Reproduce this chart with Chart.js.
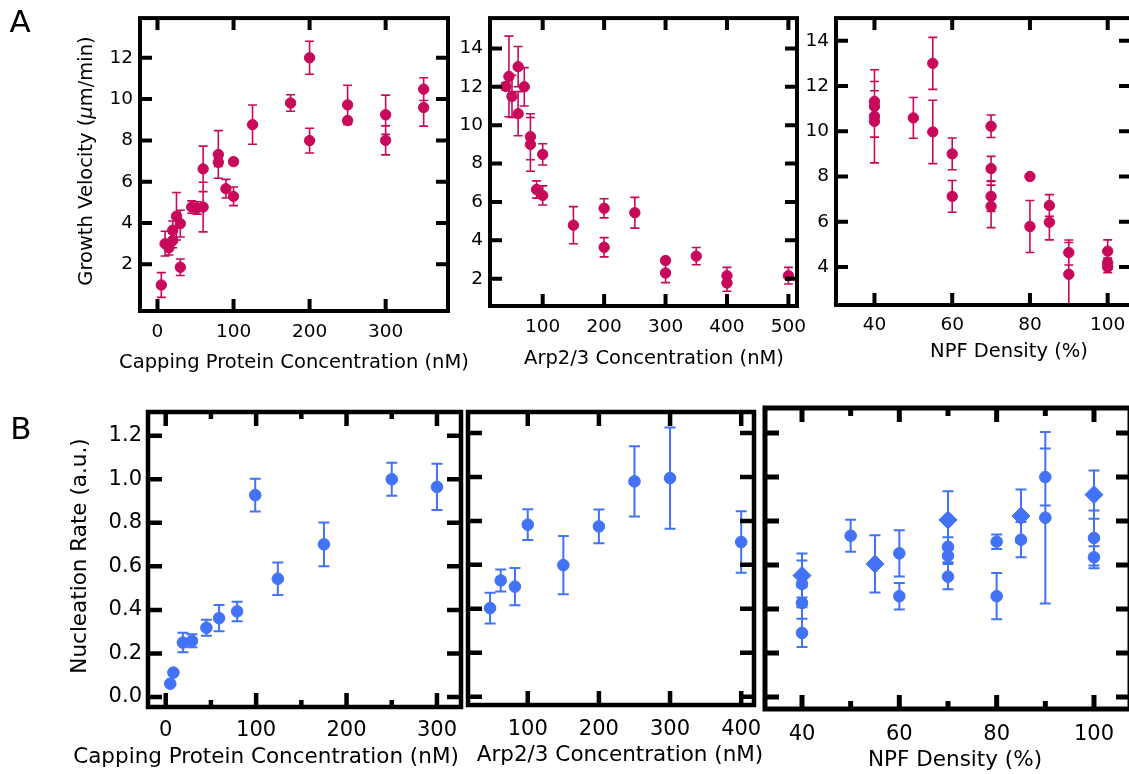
<!DOCTYPE html>
<html>
<head>
<meta charset="utf-8">
<script src="https://cdn.jsdelivr.net/npm/chart.js@4/dist/chart.umd.min.js"></script>
<style>
  html, body { margin: 0; padding: 0; background: #fff; overflow: hidden; width: 1129px; height: 774px; }
  canvas { position: absolute; left: 0; top: 0; }
</style>
</head>
<body>
<canvas id="a1" width="1140" height="774"></canvas>
<canvas id="a2" width="1140" height="774"></canvas>
<canvas id="a3" width="1140" height="774"></canvas>
<canvas id="b1" width="1140" height="774"></canvas>
<canvas id="b2" width="1140" height="774"></canvas>
<canvas id="b3" width="1140" height="774"></canvas>
<script>
// ---- data ----

// A, left: growth velocity vs capping protein
const cpGrowthX   = [5, 10, 15, 20, 20, 25, 30, 30, 45, 52, 60, 60, 80, 80, 90, 100, 100, 125, 175, 200, 200, 250, 250, 300, 300, 350, 350];
const cpGrowthY   = [1.0, 3.0, 2.8, 3.15, 3.65, 4.33, 3.97, 1.86, 4.77, 4.73, 4.77, 6.62, 7.32, 6.94, 5.66, 6.97, 5.29, 8.76, 9.81, 12.0, 7.99, 9.72, 8.96, 9.24, 8.0, 10.48, 9.59];
const cpGrowthErr = [0.6, 0.6, 0.35, 0.35, 0.45, 1.15, 0.65, 0.4, 0.3, 0.3, 1.2, 1.1, 1.15, 0.2, 0.45, 0.15, 0.45, 0.95, 0.4, 0.8, 0.6, 0.95, 0.15, 0.95, 0.7, 0.55, 0.9];

// A, middle: growth velocity vs Arp2/3
const arpGrowthX   = [40, 45, 50, 60, 60, 70, 80, 80, 100, 90, 100, 150, 200, 200, 250, 300, 300, 350, 400, 400, 500];
const arpGrowthY   = [12.02, 12.54, 11.5, 13.05, 10.6, 12.0, 9.4, 9.0, 8.48, 6.65, 6.34, 4.79, 5.67, 3.64, 5.44, 2.95, 2.3, 3.18, 2.16, 1.78, 2.16];
const arpGrowthErr = [0.2, 2.1, 1.1, 1.05, 1.15, 1.0, 1.2, 1.4, 0.55, 0.45, 0.5, 0.97, 0.5, 0.5, 0.8, 0.1, 0.5, 0.45, 0.43, 0.43, 0.43];

// A, right: growth velocity vs NPF density
const npfGrowthX   = [40, 40, 40, 40, 50, 55, 55, 60, 60, 70, 70, 70, 70, 80, 80, 85, 85, 90, 90, 100, 100, 100];
const npfGrowthY   = [11.32, 11.1, 10.66, 10.44, 10.59, 13.0, 9.97, 9.0, 7.12, 10.22, 8.35, 7.12, 6.68, 8.0, 5.79, 6.72, 5.98, 4.64, 3.68, 4.7, 4.19, 4.0];
const npfGrowthErr = [0.88, 0.69, 2.06, 0.7, 0.9, 1.15, 1.4, 0.7, 0.7, 0.5, 0.54, 0.66, 0.94, 0.05, 1.15, 0.48, 0.78, 0.55, 1.4, 0.5, 0.2, 0.25];

// B, left: nucleation rate vs capping protein
const cpNucX   = [5, 8.5, 19, 29, 45, 59, 79, 99, 124, 175, 250, 300];
const cpNucY   = [0.061, 0.112, 0.25, 0.258, 0.318, 0.362, 0.393, 0.927, 0.543, 0.701, 1.0, 0.965];
const cpNucErr = [0, 0, 0.045, 0.03, 0.037, 0.06, 0.045, 0.075, 0.075, 0.1, 0.076, 0.106];

// B, middle: nucleation rate vs Arp2/3
const arpNucX   = [47, 62, 82, 100, 150, 200, 250, 300, 400];
const arpNucY   = [0.403, 0.529, 0.501, 0.783, 0.599, 0.775, 0.98, 0.995, 0.704];
const arpNucErr = [0.07, 0.05, 0.085, 0.07, 0.133, 0.077, 0.16, 0.23, 0.14];

// B, right: nucleation rate vs NPF density (circles and diamonds)
const npfNucX   = [40, 40, 40, 50, 60, 60, 70, 70, 70, 80, 80, 85, 90, 90, 100, 100];
const npfNucY   = [0.514, 0.427, 0.291, 0.733, 0.653, 0.458, 0.683, 0.642, 0.547, 0.706, 0.458, 0.715, 1.0, 0.815, 0.723, 0.635];
const npfNucErr = [0.106, 0.072, 0.064, 0.073, 0.105, 0.06, 0.043, 0.03, 0.057, 0.033, 0.105, 0.08, 0.13, 0.39, 0.125, 0.05];
const npfNuc2X   = [40, 55, 70, 85, 100];
const npfNuc2Y   = [0.552, 0.605, 0.805, 0.823, 0.92];
const npfNuc2Err = [0.1, 0.13, 0.13, 0.12, 0.11];

// tick values
const cpGrowthTicksX  = [0, 100, 200, 300];
const cpGrowthTicksY  = [2, 4, 6, 8, 10, 12];
const arpGrowthTicksX = [100, 200, 300, 400, 500];
const arpGrowthTicksY = [2, 4, 6, 8, 10, 12, 14];
const npfGrowthTicksX = [40, 60, 80, 100];
const npfGrowthTicksY = [4, 6, 8, 10, 12, 14];
const cpNucTicksX     = [0, 100, 200, 300];
const cpNucMinorX     = [50, 150, 250];
const arpNucTicksX    = [100, 200, 300, 400];
const npfNucTicksX    = [40, 60, 80, 100];
const npfNucMinorX    = [50, 70, 90];
const nucTicksY       = [0, 0.2, 0.4, 0.6, 0.8, 1.0, 1.2];

const PINK = '#c8085a';
const BLUE = '#4272f6';
const FONT = '"DejaVu Sans", "Lucida Grande", Verdana, sans-serif';
Chart.defaults.font.family = FONT;
Chart.defaults.color = '#000';

const pts = (xs, ys) => xs.map((x, i) => ({ x: x, y: ys[i] }));

// frame with inward ticks on all four sides
function framePlugin(o) {
  return {
    id: 'frame',
    afterDatasetsDraw(chart) {
      const { ctx, chartArea: a, scales: { x, y } } = chart;
      ctx.save();
      ctx.strokeStyle = '#000';
      ctx.lineWidth = o.width;
      ctx.lineCap = 'butt';
      ctx.beginPath();
      const vx = (vals, len) => vals.forEach(v => {
        const px = x.getPixelForValue(v);
        ctx.moveTo(px, a.top); ctx.lineTo(px, a.top + len);
        ctx.moveTo(px, a.bottom); ctx.lineTo(px, a.bottom - len);
      });
      vx(o.xTicks, o.len);
      vx(o.xMinor || [], o.minorLen || 0);
      o.yTicks.forEach(v => {
        const py = y.getPixelForValue(v);
        ctx.moveTo(a.left, py); ctx.lineTo(a.left + o.len, py);
        ctx.moveTo(a.right, py); ctx.lineTo(a.right - o.len, py);
      });
      ctx.stroke();
      ctx.lineJoin = 'miter';
      ctx.strokeRect(a.left, a.top, a.right - a.left, a.bottom - a.top);
      ctx.restore();
    }
  };
}

// vertical error bars with caps, drawn under the markers
function errorPlugin(o) {
  return {
    id: 'errbars',
    beforeDatasetsDraw(chart) {
      const { ctx, chartArea: a, scales: { x, y } } = chart;
      ctx.save();
      ctx.beginPath();
      ctx.rect(a.left, a.top, a.right - a.left, a.bottom - a.top);
      ctx.clip();
      chart.data.datasets.forEach(ds => {
        ctx.strokeStyle = ds.borderColor;
        ctx.lineWidth = o.width;
        ctx.beginPath();
        ds.data.forEach((p, i) => {
          const e = ds.errors[i];
          if (!e) return;
          const px = x.getPixelForValue(p.x);
          const hi = y.getPixelForValue(p.y + e);
          const lo = y.getPixelForValue(p.y - e);
          ctx.moveTo(px, hi); ctx.lineTo(px, lo);
          ctx.moveTo(px - o.cap, hi); ctx.lineTo(px + o.cap, hi);
          ctx.moveTo(px - o.cap, lo); ctx.lineTo(px + o.cap, lo);
        });
        ctx.stroke();
      });
      ctx.restore();
    }
  };
}

// axis titles and panel letters
function textPlugin(items) {
  return {
    id: 'texts',
    afterDraw(chart) {
      const ctx = chart.ctx;
      items.forEach(t => {
        ctx.save();
        ctx.fillStyle = '#000';
        ctx.textBaseline = 'middle';
        ctx.translate(t.x, t.y);
        if (t.rot) ctx.rotate(t.rot);
        const parts = t.parts || [{ s: t.text }];
        let total = 0;
        parts.forEach(p => {
          ctx.font = (p.it ? 'italic ' : '') + t.size + 'px ' + FONT;
          p.w = ctx.measureText(p.s).width;
          total += p.w;
        });
        let cx = -total / 2;
        ctx.textAlign = 'left';
        parts.forEach(p => {
          ctx.font = (p.it ? 'italic ' : '') + t.size + 'px ' + FONT;
          ctx.fillText(p.s, cx, 0);
          cx += p.w;
        });
        ctx.restore();
      });
    }
  };
}

function makePanel(id, cfg) {
  const [L, R, T, B] = cfg.frame;
  const yw = cfg.showY ? 60 : 10;
  const xh = 40;
  new Chart(document.getElementById(id), {
    type: 'scatter',
    data: { datasets: cfg.datasets },
    options: {
      responsive: false,
      animation: false,
      devicePixelRatio: 1,
      events: [],
      layout: { padding: { left: L - yw, right: 1140 - R, top: T, bottom: 774 - B - xh } },
      plugins: { legend: { display: false }, tooltip: { enabled: false } },
      scales: {
        x: {
          type: 'linear', min: cfg.xMin, max: cfg.xMax,
          grid: { display: false, drawTicks: false }, border: { display: false },
          afterBuildTicks: s => { s.ticks = cfg.xTicks.map(v => ({ value: v })); },
          afterFit: s => { s.height = xh; },
          ticks: { font: { size: cfg.tickSize }, color: '#000', padding: cfg.xPad,
                   autoSkip: false, maxRotation: 0, minRotation: 0, callback: v => String(v) }
        },
        y: {
          type: 'linear', min: cfg.yMin, max: cfg.yMax,
          grid: { display: false, drawTicks: false }, border: { display: false },
          afterBuildTicks: s => { s.ticks = cfg.yTicks.map(v => ({ value: v })); },
          afterFit: s => { s.width = yw; },
          ticks: { display: cfg.showY, font: { size: cfg.tickSize }, color: '#000', padding: cfg.yPad,
                   autoSkip: false, callback: cfg.yFmt || (v => String(v)) }
        }
      }
    },
    plugins: [
      errorPlugin(cfg.err),
      framePlugin({ width: cfg.lineW, len: cfg.tickLen, xTicks: cfg.xTicks, yTicks: cfg.yTicks,
                    xMinor: cfg.xMinor, minorLen: cfg.minorLen }),
      textPlugin(cfg.texts)
    ]
  });
}

const pinkSet = (xs, ys, errs) => ({
  data: pts(xs, ys), errors: errs, backgroundColor: PINK, borderColor: PINK,
  borderWidth: 1, pointRadius: 5.2, pointStyle: 'circle'
});
const blueSet = (xs, ys, errs, style, r) => ({
  data: pts(xs, ys), errors: errs, backgroundColor: BLUE, borderColor: BLUE,
  borderWidth: 1, pointRadius: r, pointStyle: style
});

const growthTitle = [{ s: 'Growth Velocity (' }, { s: 'μ', it: true }, { s: 'm/min)' }];

makePanel('a1', {
  frame: [140, 448, 15, 311], xMin: -23, xMax: 382, yMin: -0.26, yMax: 13.92,
  xTicks: cpGrowthTicksX, yTicks: cpGrowthTicksY, showY: true,
  tickSize: 18.5, xPad: 10, yPad: 7, lineW: 4, tickLen: 12,
  err: { width: 1.6, cap: 4.5 },
  datasets: [pinkSet(cpGrowthX, cpGrowthY, cpGrowthErr)],
  texts: [
    { text: 'A', x: 20, y: 24, size: 31 },
    { parts: growthTitle, x: 87, y: 161, size: 19.5, rot: -Math.PI / 2 },
    { text: 'Capping Protein Concentration (nM)', x: 294, y: 363, size: 19.5 }
  ]
});

makePanel('a2', {
  frame: [490, 797, 15, 306], xMin: 14.2, xMax: 514, yMin: 0.58, yMax: 15.58,
  xTicks: arpGrowthTicksX, yTicks: arpGrowthTicksY, showY: true,
  tickSize: 18.5, xPad: 10, yPad: 7, lineW: 4, tickLen: 12,
  err: { width: 1.6, cap: 4.5 },
  datasets: [pinkSet(arpGrowthX, arpGrowthY, arpGrowthErr)],
  texts: [{ text: 'Arp2/3 Concentration (nM)', x: 654, y: 359, size: 19.5 }]
});

makePanel('a3', {
  frame: [836, 1131, 16, 305], xMin: 30.1, xMax: 106, yMin: 2.32, yMax: 15.0,
  xTicks: npfGrowthTicksX, yTicks: npfGrowthTicksY, showY: true,
  tickSize: 18.5, xPad: 9, yPad: 7, lineW: 4, tickLen: 12,
  err: { width: 1.6, cap: 4.5 },
  datasets: [pinkSet(npfGrowthX, npfGrowthY, npfGrowthErr)],
  texts: [{ text: 'NPF Density (%)', x: 1009, y: 352, size: 19.5 }]
});

makePanel('b1', {
  frame: [148, 461, 412, 707], xMin: -19.6, xMax: 326.6, yMin: -0.046, yMax: 1.309,
  xTicks: cpNucTicksX, xMinor: cpNucMinorX, minorLen: 7, yTicks: nucTicksY, showY: true,
  tickSize: 21, xPad: 11, yPad: 6, lineW: 4.5, tickLen: 14,
  yFmt: v => v.toFixed(1),
  err: { width: 2, cap: 5.5 },
  datasets: [blueSet(cpNucX, cpNucY, cpNucErr, 'circle', 5.8)],
  texts: [
    { text: 'B', x: 21, y: 431, size: 31 },
    { text: 'Nucleation Rate (a.u.)', x: 80, y: 556, size: 21.5, rot: -Math.PI / 2 },
    { text: 'Capping Protein Concentration (nM)', x: 266, y: 757, size: 21.5 }
  ]
});

makePanel('b2', {
  frame: [468, 754, 412, 705], xMin: 16, xMax: 418, yMin: -0.038, yMax: 1.296,
  xTicks: arpNucTicksX, yTicks: nucTicksY, showY: false,
  tickSize: 21, xPad: 12, yPad: 6, lineW: 4.5, tickLen: 14,
  err: { width: 2, cap: 5.5 },
  datasets: [blueSet(arpNucX, arpNucY, arpNucErr, 'circle', 5.8)],
  texts: [{ text: 'Arp2/3 Concentration (nM)', x: 620, y: 755, size: 21.5 }]
});

makePanel('b3', {
  frame: [765, 1132, 408, 709], xMin: 32.4, xMax: 107.4, yMin: -0.055, yMax: 1.314,
  xTicks: npfNucTicksX, xMinor: npfNucMinorX, minorLen: 8, yTicks: nucTicksY, showY: false,
  tickSize: 21, xPad: 13, yPad: 6, lineW: 5, tickLen: 14,
  err: { width: 2, cap: 5.5 },
  datasets: [
    blueSet(npfNucX, npfNucY, npfNucErr, 'circle', 5.8),
    blueSet(npfNuc2X, npfNuc2Y, npfNuc2Err, 'rectRot', 9)
  ],
  texts: [{ text: 'NPF Density (%)', x: 955, y: 760, size: 21.5 }]
});
</script>
</body>
</html>
